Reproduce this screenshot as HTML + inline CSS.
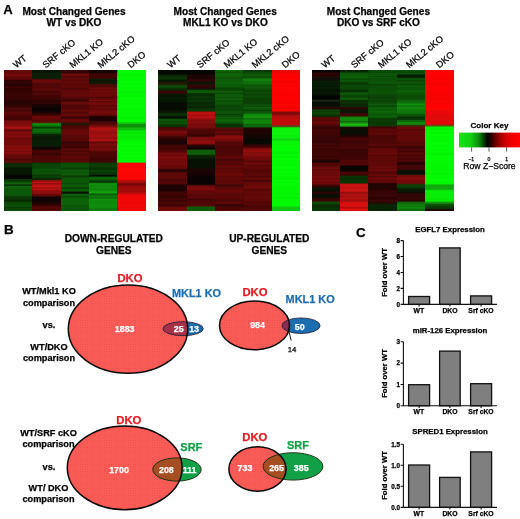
<!DOCTYPE html>
<html><head><meta charset="utf-8"><title>Figure</title>
<style>
html,body{margin:0;padding:0;background:#fff;}
svg{display:block;}
text{font-family:"Liberation Sans",sans-serif;fill:#000;stroke:#000;stroke-width:0.25px;}
.ns text,text.ns{stroke:none;}
.b{font-weight:bold;}
</style></head><body>
<svg width="520" height="519" viewBox="0 0 520 519">
<defs>
<linearGradient id="h1c0" x1="0" y1="70" x2="0" y2="211.4" gradientUnits="userSpaceOnUse"><stop offset="0.0057" stop-color="#680808"/><stop offset="0.0170" stop-color="#680808"/><stop offset="0.0283" stop-color="#750a0a"/><stop offset="0.0424" stop-color="#750a0a"/><stop offset="0.0537" stop-color="#5f0808"/><stop offset="0.0629" stop-color="#5f0808"/><stop offset="0.0743" stop-color="#310303"/><stop offset="0.1040" stop-color="#310303"/><stop offset="0.1153" stop-color="#3f0404"/><stop offset="0.1344" stop-color="#3f0404"/><stop offset="0.1457" stop-color="#360303"/><stop offset="0.1549" stop-color="#360303"/><stop offset="0.1662" stop-color="#3d0404"/><stop offset="0.2008" stop-color="#3d0404"/><stop offset="0.2122" stop-color="#2d0303"/><stop offset="0.2419" stop-color="#2d0303"/><stop offset="0.2532" stop-color="#3b0404"/><stop offset="0.2631" stop-color="#3b0404"/><stop offset="0.2744" stop-color="#5f0808"/><stop offset="0.3126" stop-color="#5f0808"/><stop offset="0.3239" stop-color="#4c0505"/><stop offset="0.3494" stop-color="#4c0505"/><stop offset="0.3607" stop-color="#880c0c"/><stop offset="0.3798" stop-color="#880c0c"/><stop offset="0.3911" stop-color="#b51212"/><stop offset="0.4158" stop-color="#b51212"/><stop offset="0.4272" stop-color="#880c0c"/><stop offset="0.4470" stop-color="#880c0c"/><stop offset="0.4583" stop-color="#7f0b0b"/><stop offset="0.4965" stop-color="#7f0b0b"/><stop offset="0.5078" stop-color="#7a0b0b"/><stop offset="0.5269" stop-color="#7a0b0b"/><stop offset="0.5382" stop-color="#880c0c"/><stop offset="0.6096" stop-color="#880c0c"/><stop offset="0.6209" stop-color="#5f0808"/><stop offset="0.6521" stop-color="#5f0808"/><stop offset="0.6634" stop-color="#0a3005"/><stop offset="0.6853" stop-color="#0a3005"/><stop offset="0.6966" stop-color="#081803"/><stop offset="0.7369" stop-color="#081803"/><stop offset="0.7482" stop-color="#030503"/><stop offset="0.7673" stop-color="#030503"/><stop offset="0.7763" stop-color="#0c4d07"/><stop offset="0.7796" stop-color="#0c4d07"/><stop offset="0.7885" stop-color="#0d6409"/><stop offset="0.8034" stop-color="#0d6409"/><stop offset="0.8124" stop-color="#0a3a05"/><stop offset="0.8157" stop-color="#0a3a05"/><stop offset="0.8246" stop-color="#0d6609"/><stop offset="0.8748" stop-color="#0d6609"/><stop offset="0.8854" stop-color="#0d6409"/><stop offset="0.8904" stop-color="#0d6409"/><stop offset="0.9010" stop-color="#0a3a05"/><stop offset="0.9257" stop-color="#0a3a05"/><stop offset="0.9371" stop-color="#0c4d07"/><stop offset="0.9463" stop-color="#0c4d07"/><stop offset="0.9576" stop-color="#0c5608"/><stop offset="0.9632" stop-color="#0c5608"/><stop offset="0.9719" stop-color="#0a3a05"/><stop offset="0.9750" stop-color="#0a3a05"/><stop offset="0.9837" stop-color="#0c5608"/><stop offset="0.9943" stop-color="#0c5608"/></linearGradient><linearGradient id="h1c1" x1="0" y1="70" x2="0" y2="211.4" gradientUnits="userSpaceOnUse"><stop offset="0.0057" stop-color="#0a1505"/><stop offset="0.0120" stop-color="#0a1505"/><stop offset="0.0233" stop-color="#0d2208"/><stop offset="0.0580" stop-color="#0d2208"/><stop offset="0.0693" stop-color="#750a0a"/><stop offset="0.0934" stop-color="#750a0a"/><stop offset="0.1047" stop-color="#560707"/><stop offset="0.1195" stop-color="#560707"/><stop offset="0.1308" stop-color="#5a0707"/><stop offset="0.1711" stop-color="#5a0707"/><stop offset="0.1825" stop-color="#440404"/><stop offset="0.2008" stop-color="#440404"/><stop offset="0.2122" stop-color="#310303"/><stop offset="0.2369" stop-color="#310303"/><stop offset="0.2482" stop-color="#160303"/><stop offset="0.2631" stop-color="#160303"/><stop offset="0.2744" stop-color="#0d0202"/><stop offset="0.2949" stop-color="#0d0202"/><stop offset="0.3062" stop-color="#360303"/><stop offset="0.3190" stop-color="#360303"/><stop offset="0.3296" stop-color="#750a0a"/><stop offset="0.3345" stop-color="#750a0a"/><stop offset="0.3451" stop-color="#680808"/><stop offset="0.3692" stop-color="#680808"/><stop offset="0.3805" stop-color="#118a0d"/><stop offset="0.3953" stop-color="#118a0d"/><stop offset="0.4050" stop-color="#0a4005"/><stop offset="0.4090" stop-color="#0a4005"/><stop offset="0.4187" stop-color="#0f7b0c"/><stop offset="0.4307" stop-color="#0f7b0c"/><stop offset="0.4418" stop-color="#0d6609"/><stop offset="0.4472" stop-color="#0d6609"/><stop offset="0.4559" stop-color="#0a3005"/><stop offset="0.4592" stop-color="#0a3005"/><stop offset="0.4682" stop-color="#0a1a05"/><stop offset="0.4965" stop-color="#0a1a05"/><stop offset="0.5078" stop-color="#0a2005"/><stop offset="0.5375" stop-color="#0a2005"/><stop offset="0.5488" stop-color="#160804"/><stop offset="0.5580" stop-color="#160804"/><stop offset="0.5693" stop-color="#4f0505"/><stop offset="0.6499" stop-color="#4f0505"/><stop offset="0.6612" stop-color="#0b4907"/><stop offset="0.6909" stop-color="#0b4907"/><stop offset="0.7023" stop-color="#0c5408"/><stop offset="0.7313" stop-color="#0c5408"/><stop offset="0.7426" stop-color="#0a4206"/><stop offset="0.7567" stop-color="#0a4206"/><stop offset="0.7676" stop-color="#0a3005"/><stop offset="0.7727" stop-color="#0a3005"/><stop offset="0.7836" stop-color="#c01212"/><stop offset="0.8430" stop-color="#c01212"/><stop offset="0.8543" stop-color="#a30f0f"/><stop offset="0.8692" stop-color="#a30f0f"/><stop offset="0.8805" stop-color="#5f0808"/><stop offset="0.8897" stop-color="#5f0808"/><stop offset="0.9010" stop-color="#120303"/><stop offset="0.9307" stop-color="#120303"/><stop offset="0.9415" stop-color="#290303"/><stop offset="0.9467" stop-color="#290303"/><stop offset="0.9576" stop-color="#560707"/><stop offset="0.9943" stop-color="#560707"/></linearGradient><linearGradient id="h1c2" x1="0" y1="70" x2="0" y2="211.4" gradientUnits="userSpaceOnUse"><stop offset="0.0057" stop-color="#440404"/><stop offset="0.0170" stop-color="#440404"/><stop offset="0.0283" stop-color="#6d0909"/><stop offset="0.0424" stop-color="#6d0909"/><stop offset="0.0537" stop-color="#5f0808"/><stop offset="0.0686" stop-color="#5f0808"/><stop offset="0.0799" stop-color="#660808"/><stop offset="0.1089" stop-color="#660808"/><stop offset="0.1202" stop-color="#5a0707"/><stop offset="0.1344" stop-color="#5a0707"/><stop offset="0.1457" stop-color="#6d0909"/><stop offset="0.2008" stop-color="#6d0909"/><stop offset="0.2119" stop-color="#3f0404"/><stop offset="0.2174" stop-color="#3f0404"/><stop offset="0.2277" stop-color="#6d0909"/><stop offset="0.2327" stop-color="#6d0909"/><stop offset="0.2433" stop-color="#5f0808"/><stop offset="0.2730" stop-color="#5f0808"/><stop offset="0.2843" stop-color="#710909"/><stop offset="0.3239" stop-color="#710909"/><stop offset="0.3352" stop-color="#480505"/><stop offset="0.3409" stop-color="#480505"/><stop offset="0.3522" stop-color="#710909"/><stop offset="0.3649" stop-color="#710909"/><stop offset="0.3762" stop-color="#241604"/><stop offset="0.3847" stop-color="#241604"/><stop offset="0.3960" stop-color="#5a0707"/><stop offset="0.4158" stop-color="#5a0707"/><stop offset="0.4272" stop-color="#680808"/><stop offset="0.4569" stop-color="#680808"/><stop offset="0.4682" stop-color="#5a0707"/><stop offset="0.4965" stop-color="#5a0707"/><stop offset="0.5078" stop-color="#4c0505"/><stop offset="0.5474" stop-color="#4c0505"/><stop offset="0.5587" stop-color="#5a0707"/><stop offset="0.5990" stop-color="#5a0707"/><stop offset="0.6103" stop-color="#5f0808"/><stop offset="0.6499" stop-color="#5f0808"/><stop offset="0.6612" stop-color="#0c5b08"/><stop offset="0.7419" stop-color="#0c5b08"/><stop offset="0.7506" stop-color="#0a4005"/><stop offset="0.7537" stop-color="#0a4005"/><stop offset="0.7624" stop-color="#0d6409"/><stop offset="0.8543" stop-color="#0d6409"/><stop offset="0.8649" stop-color="#051003"/><stop offset="0.8699" stop-color="#051003"/><stop offset="0.8805" stop-color="#0c5b08"/><stop offset="0.8996" stop-color="#0c5b08"/><stop offset="0.9109" stop-color="#0e6a0a"/><stop offset="0.9463" stop-color="#0e6a0a"/><stop offset="0.9576" stop-color="#0c5b08"/><stop offset="0.9943" stop-color="#0c5b08"/></linearGradient><linearGradient id="h1c3" x1="0" y1="70" x2="0" y2="211.4" gradientUnits="userSpaceOnUse"><stop offset="0.0057" stop-color="#1b0303"/><stop offset="0.0170" stop-color="#1b0303"/><stop offset="0.0283" stop-color="#440404"/><stop offset="0.0530" stop-color="#440404"/><stop offset="0.0644" stop-color="#101a05"/><stop offset="0.0934" stop-color="#101a05"/><stop offset="0.1047" stop-color="#5a0707"/><stop offset="0.1195" stop-color="#5a0707"/><stop offset="0.1308" stop-color="#710909"/><stop offset="0.2008" stop-color="#710909"/><stop offset="0.2122" stop-color="#7a0b0b"/><stop offset="0.2320" stop-color="#7a0b0b"/><stop offset="0.2433" stop-color="#6d0909"/><stop offset="0.2730" stop-color="#6d0909"/><stop offset="0.2843" stop-color="#750a0a"/><stop offset="0.3190" stop-color="#750a0a"/><stop offset="0.3303" stop-color="#1f0303"/><stop offset="0.3593" stop-color="#1f0303"/><stop offset="0.3706" stop-color="#6d0909"/><stop offset="0.3953" stop-color="#6d0909"/><stop offset="0.4066" stop-color="#b21111"/><stop offset="0.4470" stop-color="#b21111"/><stop offset="0.4583" stop-color="#b91212"/><stop offset="0.4965" stop-color="#b91212"/><stop offset="0.5078" stop-color="#8c0d0d"/><stop offset="0.5269" stop-color="#8c0d0d"/><stop offset="0.5382" stop-color="#750a0a"/><stop offset="0.5728" stop-color="#750a0a"/><stop offset="0.5842" stop-color="#520606"/><stop offset="0.6096" stop-color="#520606"/><stop offset="0.6209" stop-color="#440404"/><stop offset="0.6499" stop-color="#440404"/><stop offset="0.6612" stop-color="#0a4206"/><stop offset="0.7263" stop-color="#0a4206"/><stop offset="0.7355" stop-color="#083005"/><stop offset="0.7390" stop-color="#083005"/><stop offset="0.7459" stop-color="#030a02"/><stop offset="0.7492" stop-color="#030a02"/><stop offset="0.7581" stop-color="#0d6609"/><stop offset="0.7772" stop-color="#0d6609"/><stop offset="0.7883" stop-color="#0a3a05"/><stop offset="0.7937" stop-color="#0a3a05"/><stop offset="0.8048" stop-color="#119a0d"/><stop offset="0.8543" stop-color="#119a0d"/><stop offset="0.8649" stop-color="#16b812"/><stop offset="0.8699" stop-color="#16b812"/><stop offset="0.8805" stop-color="#0f800c"/><stop offset="0.9052" stop-color="#0f800c"/><stop offset="0.9165" stop-color="#11940d"/><stop offset="0.9279" stop-color="#11940d"/><stop offset="0.9392" stop-color="#12a10e"/><stop offset="0.9774" stop-color="#12a10e"/><stop offset="0.9887" stop-color="#11940d"/><stop offset="0.9943" stop-color="#11940d"/></linearGradient><linearGradient id="h1c4" x1="0" y1="70" x2="0" y2="211.4" gradientUnits="userSpaceOnUse"><stop offset="0.0057" stop-color="#04fb04"/><stop offset="0.3649" stop-color="#04fb04"/><stop offset="0.3739" stop-color="#0fc80f"/><stop offset="0.3772" stop-color="#0fc80f"/><stop offset="0.3861" stop-color="#0e940a"/><stop offset="0.4003" stop-color="#0e940a"/><stop offset="0.4116" stop-color="#0fc00f"/><stop offset="0.4208" stop-color="#0fc00f"/><stop offset="0.4321" stop-color="#06f206"/><stop offset="0.4965" stop-color="#06f206"/><stop offset="0.5078" stop-color="#04fc04"/><stop offset="0.6499" stop-color="#04fc04"/><stop offset="0.6612" stop-color="#ff0505"/><stop offset="0.7723" stop-color="#ff0505"/><stop offset="0.7836" stop-color="#b20b0b"/><stop offset="0.7935" stop-color="#b20b0b"/><stop offset="0.8048" stop-color="#750808"/><stop offset="0.8133" stop-color="#750808"/><stop offset="0.8246" stop-color="#a30b0b"/><stop offset="0.8593" stop-color="#a30b0b"/><stop offset="0.8701" stop-color="#c00b0b"/><stop offset="0.8753" stop-color="#c00b0b"/><stop offset="0.8861" stop-color="#f50808"/><stop offset="0.9943" stop-color="#f50808"/></linearGradient><linearGradient id="h2c0" x1="0" y1="70" x2="0" y2="211.4" gradientUnits="userSpaceOnUse"><stop offset="0.0057" stop-color="#050a03"/><stop offset="0.0276" stop-color="#050a03"/><stop offset="0.0382" stop-color="#0a2a05"/><stop offset="0.0431" stop-color="#0a2a05"/><stop offset="0.0537" stop-color="#0c3a07"/><stop offset="0.0629" stop-color="#0c3a07"/><stop offset="0.0738" stop-color="#0a2005"/><stop offset="0.0790" stop-color="#0a2005"/><stop offset="0.0898" stop-color="#271805"/><stop offset="0.0990" stop-color="#271805"/><stop offset="0.1103" stop-color="#0c4a07"/><stop offset="0.1245" stop-color="#0c4a07"/><stop offset="0.1353" stop-color="#0a3005"/><stop offset="0.1405" stop-color="#0a3005"/><stop offset="0.1513" stop-color="#450505"/><stop offset="0.1605" stop-color="#450505"/><stop offset="0.1719" stop-color="#081d04"/><stop offset="0.2207" stop-color="#081d04"/><stop offset="0.2320" stop-color="#040c03"/><stop offset="0.2730" stop-color="#040c03"/><stop offset="0.2843" stop-color="#0a1505"/><stop offset="0.2984" stop-color="#0a1505"/><stop offset="0.3098" stop-color="#0a3505"/><stop offset="0.3190" stop-color="#0a3505"/><stop offset="0.3303" stop-color="#061003"/><stop offset="0.3388" stop-color="#061003"/><stop offset="0.3501" stop-color="#0d5508"/><stop offset="0.3692" stop-color="#0d5508"/><stop offset="0.3805" stop-color="#0c4a07"/><stop offset="0.3975" stop-color="#0c4a07"/><stop offset="0.4088" stop-color="#540606"/><stop offset="0.4158" stop-color="#540606"/><stop offset="0.4272" stop-color="#770a0a"/><stop offset="0.4569" stop-color="#770a0a"/><stop offset="0.4682" stop-color="#4a0505"/><stop offset="0.4774" stop-color="#4a0505"/><stop offset="0.4887" stop-color="#270303"/><stop offset="0.4965" stop-color="#270303"/><stop offset="0.5078" stop-color="#1e0303"/><stop offset="0.5219" stop-color="#1e0303"/><stop offset="0.5332" stop-color="#4a0505"/><stop offset="0.5629" stop-color="#4a0505"/><stop offset="0.5743" stop-color="#770a0a"/><stop offset="0.6096" stop-color="#770a0a"/><stop offset="0.6209" stop-color="#800b0b"/><stop offset="0.6909" stop-color="#800b0b"/><stop offset="0.7023" stop-color="#3c0404"/><stop offset="0.7157" stop-color="#3c0404"/><stop offset="0.7270" stop-color="#630707"/><stop offset="0.7581" stop-color="#630707"/><stop offset="0.7694" stop-color="#590707"/><stop offset="0.8034" stop-color="#590707"/><stop offset="0.8147" stop-color="#1e0303"/><stop offset="0.8543" stop-color="#1e0303"/><stop offset="0.8656" stop-color="#450505"/><stop offset="0.9052" stop-color="#450505"/><stop offset="0.9165" stop-color="#4a0505"/><stop offset="0.9618" stop-color="#4a0505"/><stop offset="0.9731" stop-color="#7c0a0a"/><stop offset="0.9943" stop-color="#7c0a0a"/></linearGradient><linearGradient id="h2c1" x1="0" y1="70" x2="0" y2="211.4" gradientUnits="userSpaceOnUse"><stop offset="0.0057" stop-color="#070705"/><stop offset="0.0276" stop-color="#070705"/><stop offset="0.0389" stop-color="#220505"/><stop offset="0.0580" stop-color="#220505"/><stop offset="0.0693" stop-color="#360505"/><stop offset="0.0785" stop-color="#360505"/><stop offset="0.0898" stop-color="#0a1505"/><stop offset="0.0990" stop-color="#0a1505"/><stop offset="0.1103" stop-color="#400505"/><stop offset="0.1195" stop-color="#400505"/><stop offset="0.1301" stop-color="#180f05"/><stop offset="0.1351" stop-color="#180f05"/><stop offset="0.1436" stop-color="#0c5508"/><stop offset="0.1471" stop-color="#0c5508"/><stop offset="0.1542" stop-color="#0e6a09"/><stop offset="0.1577" stop-color="#0e6a09"/><stop offset="0.1669" stop-color="#083005"/><stop offset="0.1803" stop-color="#083005"/><stop offset="0.1917" stop-color="#093806"/><stop offset="0.2419" stop-color="#093806"/><stop offset="0.2532" stop-color="#082805"/><stop offset="0.2631" stop-color="#082805"/><stop offset="0.2744" stop-color="#093806"/><stop offset="0.2878" stop-color="#093806"/><stop offset="0.2992" stop-color="#c11111"/><stop offset="0.3338" stop-color="#c11111"/><stop offset="0.3451" stop-color="#950e0e"/><stop offset="0.3748" stop-color="#950e0e"/><stop offset="0.3861" stop-color="#860c0c"/><stop offset="0.4158" stop-color="#860c0c"/><stop offset="0.4272" stop-color="#540606"/><stop offset="0.4470" stop-color="#540606"/><stop offset="0.4583" stop-color="#3c0505"/><stop offset="0.4668" stop-color="#3c0505"/><stop offset="0.4781" stop-color="#950e0e"/><stop offset="0.4965" stop-color="#950e0e"/><stop offset="0.5078" stop-color="#aa0f0f"/><stop offset="0.5219" stop-color="#aa0f0f"/><stop offset="0.5332" stop-color="#2d0404"/><stop offset="0.5389" stop-color="#2d0404"/><stop offset="0.5502" stop-color="#140303"/><stop offset="0.5580" stop-color="#140303"/><stop offset="0.5693" stop-color="#0e620a"/><stop offset="0.5934" stop-color="#0e620a"/><stop offset="0.6047" stop-color="#0a2a05"/><stop offset="0.6188" stop-color="#0a2a05"/><stop offset="0.6301" stop-color="#061203"/><stop offset="0.6909" stop-color="#061203"/><stop offset="0.7023" stop-color="#1e0303"/><stop offset="0.7419" stop-color="#1e0303"/><stop offset="0.7532" stop-color="#090303"/><stop offset="0.8076" stop-color="#090303"/><stop offset="0.8190" stop-color="#7c0a0a"/><stop offset="0.8494" stop-color="#7c0a0a"/><stop offset="0.8607" stop-color="#6d0909"/><stop offset="0.8748" stop-color="#6d0909"/><stop offset="0.8861" stop-color="#630707"/><stop offset="0.9052" stop-color="#630707"/><stop offset="0.9165" stop-color="#560606"/><stop offset="0.9597" stop-color="#560606"/><stop offset="0.9710" stop-color="#0e6a09"/><stop offset="0.9943" stop-color="#0e6a09"/></linearGradient><linearGradient id="h2c2" x1="0" y1="70" x2="0" y2="211.4" gradientUnits="userSpaceOnUse"><stop offset="0.0057" stop-color="#0f6a0a"/><stop offset="0.0424" stop-color="#0f6a0a"/><stop offset="0.0537" stop-color="#0d5a08"/><stop offset="0.0686" stop-color="#0d5a08"/><stop offset="0.0799" stop-color="#0e650a"/><stop offset="0.1089" stop-color="#0e650a"/><stop offset="0.1202" stop-color="#0d5a08"/><stop offset="0.2320" stop-color="#0d5a08"/><stop offset="0.2433" stop-color="#0c5007"/><stop offset="0.2829" stop-color="#0c5007"/><stop offset="0.2942" stop-color="#0d5a08"/><stop offset="0.3338" stop-color="#0d5a08"/><stop offset="0.3451" stop-color="#0e650a"/><stop offset="0.3748" stop-color="#0e650a"/><stop offset="0.3861" stop-color="#0a3a05"/><stop offset="0.4017" stop-color="#0a3a05"/><stop offset="0.4130" stop-color="#6d0909"/><stop offset="0.4569" stop-color="#6d0909"/><stop offset="0.4682" stop-color="#950e0e"/><stop offset="0.4823" stop-color="#950e0e"/><stop offset="0.4927" stop-color="#710909"/><stop offset="0.4974" stop-color="#710909"/><stop offset="0.5078" stop-color="#630707"/><stop offset="0.5269" stop-color="#630707"/><stop offset="0.5382" stop-color="#4f0606"/><stop offset="0.5990" stop-color="#4f0606"/><stop offset="0.6103" stop-color="#630707"/><stop offset="0.7016" stop-color="#630707"/><stop offset="0.7129" stop-color="#6a0808"/><stop offset="0.8034" stop-color="#6a0808"/><stop offset="0.8147" stop-color="#590707"/><stop offset="0.8338" stop-color="#590707"/><stop offset="0.8451" stop-color="#6a0808"/><stop offset="0.9052" stop-color="#6a0808"/><stop offset="0.9165" stop-color="#630707"/><stop offset="0.9463" stop-color="#630707"/><stop offset="0.9576" stop-color="#4a0505"/><stop offset="0.9703" stop-color="#4a0505"/><stop offset="0.9816" stop-color="#540606"/><stop offset="0.9943" stop-color="#540606"/></linearGradient><linearGradient id="h2c3" x1="0" y1="70" x2="0" y2="211.4" gradientUnits="userSpaceOnUse"><stop offset="0.0057" stop-color="#0a3a05"/><stop offset="0.0120" stop-color="#0a3a05"/><stop offset="0.0233" stop-color="#0d5a08"/><stop offset="0.0530" stop-color="#0d5a08"/><stop offset="0.0644" stop-color="#10800c"/><stop offset="0.0934" stop-color="#10800c"/><stop offset="0.1047" stop-color="#0e650a"/><stop offset="0.1195" stop-color="#0e650a"/><stop offset="0.1308" stop-color="#0d5a08"/><stop offset="0.1549" stop-color="#0d5a08"/><stop offset="0.1662" stop-color="#0c4a07"/><stop offset="0.2369" stop-color="#0c4a07"/><stop offset="0.2482" stop-color="#0e650a"/><stop offset="0.2730" stop-color="#0e650a"/><stop offset="0.2843" stop-color="#0d5a08"/><stop offset="0.3034" stop-color="#0d5a08"/><stop offset="0.3147" stop-color="#12900e"/><stop offset="0.3748" stop-color="#12900e"/><stop offset="0.3861" stop-color="#0e6a09"/><stop offset="0.4003" stop-color="#0e6a09"/><stop offset="0.4116" stop-color="#220303"/><stop offset="0.4470" stop-color="#220303"/><stop offset="0.4583" stop-color="#180903"/><stop offset="0.4752" stop-color="#180903"/><stop offset="0.4866" stop-color="#090903"/><stop offset="0.5219" stop-color="#090903"/><stop offset="0.5332" stop-color="#3c0505"/><stop offset="0.5424" stop-color="#3c0505"/><stop offset="0.5537" stop-color="#860c0c"/><stop offset="0.5601" stop-color="#860c0c"/><stop offset="0.5714" stop-color="#950e0e"/><stop offset="0.6096" stop-color="#950e0e"/><stop offset="0.6209" stop-color="#7c0a0a"/><stop offset="0.6591" stop-color="#7c0a0a"/><stop offset="0.6704" stop-color="#630707"/><stop offset="0.7313" stop-color="#630707"/><stop offset="0.7426" stop-color="#6d0909"/><stop offset="0.8338" stop-color="#6d0909"/><stop offset="0.8451" stop-color="#680808"/><stop offset="0.9137" stop-color="#680808"/><stop offset="0.9250" stop-color="#5e0707"/><stop offset="0.9943" stop-color="#5e0707"/></linearGradient><linearGradient id="h2c4" x1="0" y1="70" x2="0" y2="211.4" gradientUnits="userSpaceOnUse"><stop offset="0.0057" stop-color="#e80808"/><stop offset="0.0156" stop-color="#e80808"/><stop offset="0.0269" stop-color="#ff0202"/><stop offset="0.2878" stop-color="#ff0202"/><stop offset="0.2992" stop-color="#800909"/><stop offset="0.3133" stop-color="#800909"/><stop offset="0.3246" stop-color="#b90c0c"/><stop offset="0.3388" stop-color="#b90c0c"/><stop offset="0.3501" stop-color="#c50c0c"/><stop offset="0.3861" stop-color="#c50c0c"/><stop offset="0.3956" stop-color="#594a0f"/><stop offset="0.3993" stop-color="#594a0f"/><stop offset="0.4088" stop-color="#0cf40c"/><stop offset="0.4795" stop-color="#0cf40c"/><stop offset="0.4889" stop-color="#10d010"/><stop offset="0.4927" stop-color="#10d010"/><stop offset="0.5021" stop-color="#08f508"/><stop offset="0.5248" stop-color="#08f508"/><stop offset="0.5361" stop-color="#04fc04"/><stop offset="0.9618" stop-color="#04fc04"/><stop offset="0.9731" stop-color="#10c810"/><stop offset="0.9943" stop-color="#10c810"/></linearGradient><linearGradient id="h3c0" x1="0" y1="70" x2="0" y2="211.4" gradientUnits="userSpaceOnUse"><stop offset="0.0057" stop-color="#0a0505"/><stop offset="0.0120" stop-color="#0a0505"/><stop offset="0.0233" stop-color="#2f0505"/><stop offset="0.0424" stop-color="#2f0505"/><stop offset="0.0537" stop-color="#14100a"/><stop offset="0.0686" stop-color="#14100a"/><stop offset="0.0799" stop-color="#082005"/><stop offset="0.1287" stop-color="#082005"/><stop offset="0.1400" stop-color="#061803"/><stop offset="0.1711" stop-color="#061803"/><stop offset="0.1825" stop-color="#030503"/><stop offset="0.2065" stop-color="#030503"/><stop offset="0.2155" stop-color="#1a2a15"/><stop offset="0.2188" stop-color="#1a2a15"/><stop offset="0.2277" stop-color="#051003"/><stop offset="0.2525" stop-color="#051003"/><stop offset="0.2638" stop-color="#290a05"/><stop offset="0.2730" stop-color="#290a05"/><stop offset="0.2843" stop-color="#0b4507"/><stop offset="0.3267" stop-color="#0b4507"/><stop offset="0.3380" stop-color="#670808"/><stop offset="0.3847" stop-color="#670808"/><stop offset="0.3960" stop-color="#3e0505"/><stop offset="0.4158" stop-color="#3e0505"/><stop offset="0.4272" stop-color="#480505"/><stop offset="0.4569" stop-color="#480505"/><stop offset="0.4682" stop-color="#3e0505"/><stop offset="0.4965" stop-color="#3e0505"/><stop offset="0.5078" stop-color="#430505"/><stop offset="0.5580" stop-color="#430505"/><stop offset="0.5693" stop-color="#480505"/><stop offset="0.6294" stop-color="#480505"/><stop offset="0.6407" stop-color="#240303"/><stop offset="0.6499" stop-color="#240303"/><stop offset="0.6612" stop-color="#570606"/><stop offset="0.6803" stop-color="#570606"/><stop offset="0.6917" stop-color="#710a0a"/><stop offset="0.7313" stop-color="#710a0a"/><stop offset="0.7426" stop-color="#760a0a"/><stop offset="0.8034" stop-color="#760a0a"/><stop offset="0.8147" stop-color="#480505"/><stop offset="0.8232" stop-color="#480505"/><stop offset="0.8345" stop-color="#081503"/><stop offset="0.8543" stop-color="#081503"/><stop offset="0.8649" stop-color="#2f0505"/><stop offset="0.8699" stop-color="#2f0505"/><stop offset="0.8805" stop-color="#061003"/><stop offset="0.8996" stop-color="#061003"/><stop offset="0.9109" stop-color="#3e0505"/><stop offset="0.9257" stop-color="#3e0505"/><stop offset="0.9371" stop-color="#0c4f07"/><stop offset="0.9463" stop-color="#0c4f07"/><stop offset="0.9571" stop-color="#0a3005"/><stop offset="0.9623" stop-color="#0a3005"/><stop offset="0.9731" stop-color="#0a3a05"/><stop offset="0.9943" stop-color="#0a3a05"/></linearGradient><linearGradient id="h3c1" x1="0" y1="70" x2="0" y2="211.4" gradientUnits="userSpaceOnUse"><stop offset="0.0057" stop-color="#0a3005"/><stop offset="0.0120" stop-color="#0a3005"/><stop offset="0.0233" stop-color="#0d5e09"/><stop offset="0.0792" stop-color="#0d5e09"/><stop offset="0.0896" stop-color="#0a3a05"/><stop offset="0.0943" stop-color="#0a3a05"/><stop offset="0.1047" stop-color="#0b4a07"/><stop offset="0.1344" stop-color="#0b4a07"/><stop offset="0.1452" stop-color="#0a3005"/><stop offset="0.1504" stop-color="#0a3005"/><stop offset="0.1612" stop-color="#0d5e09"/><stop offset="0.2065" stop-color="#0d5e09"/><stop offset="0.2178" stop-color="#0a3005"/><stop offset="0.2320" stop-color="#0a3005"/><stop offset="0.2433" stop-color="#0a2a05"/><stop offset="0.2574" stop-color="#0a2a05"/><stop offset="0.2683" stop-color="#380505"/><stop offset="0.2735" stop-color="#380505"/><stop offset="0.2843" stop-color="#0a1505"/><stop offset="0.2984" stop-color="#0a1505"/><stop offset="0.3098" stop-color="#480505"/><stop offset="0.3232" stop-color="#480505"/><stop offset="0.3345" stop-color="#13950f"/><stop offset="0.3692" stop-color="#13950f"/><stop offset="0.3805" stop-color="#1ec116"/><stop offset="0.3953" stop-color="#1ec116"/><stop offset="0.4066" stop-color="#190a05"/><stop offset="0.4158" stop-color="#190a05"/><stop offset="0.4272" stop-color="#081003"/><stop offset="0.4470" stop-color="#081003"/><stop offset="0.4583" stop-color="#1f0a05"/><stop offset="0.4668" stop-color="#1f0a05"/><stop offset="0.4781" stop-color="#4e0505"/><stop offset="0.4965" stop-color="#4e0505"/><stop offset="0.5078" stop-color="#480505"/><stop offset="0.5672" stop-color="#480505"/><stop offset="0.5785" stop-color="#3e0404"/><stop offset="0.6294" stop-color="#3e0404"/><stop offset="0.6407" stop-color="#520606"/><stop offset="0.6704" stop-color="#520606"/><stop offset="0.6818" stop-color="#0a0503"/><stop offset="0.7107" stop-color="#0a0503"/><stop offset="0.7221" stop-color="#480505"/><stop offset="0.7419" stop-color="#480505"/><stop offset="0.7532" stop-color="#0a3505"/><stop offset="0.7970" stop-color="#0a3505"/><stop offset="0.8083" stop-color="#e01414"/><stop offset="0.8642" stop-color="#e01414"/><stop offset="0.8755" stop-color="#b51010"/><stop offset="0.9257" stop-color="#b51010"/><stop offset="0.9371" stop-color="#f81010"/><stop offset="0.9943" stop-color="#f81010"/></linearGradient><linearGradient id="h3c2" x1="0" y1="70" x2="0" y2="211.4" gradientUnits="userSpaceOnUse"><stop offset="0.0057" stop-color="#0d5e09"/><stop offset="0.0276" stop-color="#0d5e09"/><stop offset="0.0389" stop-color="#0e6809"/><stop offset="0.0481" stop-color="#0e6809"/><stop offset="0.0594" stop-color="#0c5407"/><stop offset="0.1711" stop-color="#0c5407"/><stop offset="0.1825" stop-color="#0b4507"/><stop offset="0.2115" stop-color="#0b4507"/><stop offset="0.2228" stop-color="#0d5e09"/><stop offset="0.2730" stop-color="#0d5e09"/><stop offset="0.2843" stop-color="#0e6809"/><stop offset="0.3055" stop-color="#0e6809"/><stop offset="0.3168" stop-color="#0d5e09"/><stop offset="0.3338" stop-color="#0d5e09"/><stop offset="0.3451" stop-color="#0a4005"/><stop offset="0.3925" stop-color="#0a4005"/><stop offset="0.4038" stop-color="#5f0707"/><stop offset="0.4569" stop-color="#5f0707"/><stop offset="0.4682" stop-color="#570606"/><stop offset="0.4965" stop-color="#570606"/><stop offset="0.5078" stop-color="#620808"/><stop offset="0.5375" stop-color="#620808"/><stop offset="0.5488" stop-color="#670808"/><stop offset="0.6294" stop-color="#670808"/><stop offset="0.6407" stop-color="#620808"/><stop offset="0.6803" stop-color="#620808"/><stop offset="0.6917" stop-color="#6f0909"/><stop offset="0.7313" stop-color="#6f0909"/><stop offset="0.7426" stop-color="#6d0909"/><stop offset="0.7935" stop-color="#6d0909"/><stop offset="0.8048" stop-color="#240303"/><stop offset="0.8430" stop-color="#240303"/><stop offset="0.8543" stop-color="#3e0505"/><stop offset="0.9314" stop-color="#3e0505"/><stop offset="0.9420" stop-color="#191405"/><stop offset="0.9470" stop-color="#191405"/><stop offset="0.9576" stop-color="#0a2a05"/><stop offset="0.9943" stop-color="#0a2a05"/></linearGradient><linearGradient id="h3c3" x1="0" y1="70" x2="0" y2="211.4" gradientUnits="userSpaceOnUse"><stop offset="0.0057" stop-color="#0c5407"/><stop offset="0.0276" stop-color="#0c5407"/><stop offset="0.0389" stop-color="#062003"/><stop offset="0.0481" stop-color="#062003"/><stop offset="0.0594" stop-color="#0c5407"/><stop offset="0.0990" stop-color="#0c5407"/><stop offset="0.1103" stop-color="#0d5e09"/><stop offset="0.1711" stop-color="#0d5e09"/><stop offset="0.1825" stop-color="#0c5407"/><stop offset="0.2115" stop-color="#0c5407"/><stop offset="0.2228" stop-color="#13950f"/><stop offset="0.2419" stop-color="#13950f"/><stop offset="0.2532" stop-color="#118b0d"/><stop offset="0.3034" stop-color="#118b0d"/><stop offset="0.3147" stop-color="#0d6308"/><stop offset="0.3239" stop-color="#0d6308"/><stop offset="0.3352" stop-color="#0a3a05"/><stop offset="0.3494" stop-color="#0a3a05"/><stop offset="0.3607" stop-color="#13950f"/><stop offset="0.3833" stop-color="#13950f"/><stop offset="0.3925" stop-color="#382f05"/><stop offset="0.3960" stop-color="#382f05"/><stop offset="0.4052" stop-color="#6f0909"/><stop offset="0.4470" stop-color="#6f0909"/><stop offset="0.4583" stop-color="#670808"/><stop offset="0.4965" stop-color="#670808"/><stop offset="0.5078" stop-color="#5d0707"/><stop offset="0.5375" stop-color="#5d0707"/><stop offset="0.5488" stop-color="#520606"/><stop offset="0.6450" stop-color="#520606"/><stop offset="0.6563" stop-color="#240303"/><stop offset="0.6648" stop-color="#240303"/><stop offset="0.6761" stop-color="#4e0505"/><stop offset="0.7016" stop-color="#4e0505"/><stop offset="0.7129" stop-color="#0a1505"/><stop offset="0.7369" stop-color="#0a1505"/><stop offset="0.7482" stop-color="#860c0c"/><stop offset="0.8006" stop-color="#860c0c"/><stop offset="0.8119" stop-color="#0b4a07"/><stop offset="0.8338" stop-color="#0b4a07"/><stop offset="0.8451" stop-color="#0a1a05"/><stop offset="0.8642" stop-color="#0a1a05"/><stop offset="0.8755" stop-color="#330505"/><stop offset="0.9257" stop-color="#330505"/><stop offset="0.9368" stop-color="#0e7109"/><stop offset="0.9422" stop-color="#0e7109"/><stop offset="0.9533" stop-color="#11860d"/><stop offset="0.9774" stop-color="#11860d"/><stop offset="0.9887" stop-color="#0e7109"/><stop offset="0.9943" stop-color="#0e7109"/></linearGradient><linearGradient id="h3c4" x1="0" y1="70" x2="0" y2="211.4" gradientUnits="userSpaceOnUse"><stop offset="0.0057" stop-color="#ff0202"/><stop offset="0.2730" stop-color="#ff0202"/><stop offset="0.2843" stop-color="#f00808"/><stop offset="0.3034" stop-color="#f00808"/><stop offset="0.3147" stop-color="#e00a0a"/><stop offset="0.3833" stop-color="#e00a0a"/><stop offset="0.3920" stop-color="#5d4e10"/><stop offset="0.3951" stop-color="#5d4e10"/><stop offset="0.4038" stop-color="#04fc04"/><stop offset="0.8034" stop-color="#04fc04"/><stop offset="0.8147" stop-color="#0fab0f"/><stop offset="0.8430" stop-color="#0fab0f"/><stop offset="0.8543" stop-color="#08f008"/><stop offset="0.9257" stop-color="#08f008"/><stop offset="0.9366" stop-color="#0f950f"/><stop offset="0.9418" stop-color="#0f950f"/><stop offset="0.9526" stop-color="#094a05"/><stop offset="0.9618" stop-color="#094a05"/><stop offset="0.9727" stop-color="#0c3a07"/><stop offset="0.9778" stop-color="#0c3a07"/><stop offset="0.9887" stop-color="#1f0505"/><stop offset="0.9943" stop-color="#1f0505"/></linearGradient><linearGradient id="tx0" x1="0" y1="0" x2="0" y2="70.700" gradientUnits="userSpaceOnUse" spreadMethod="repeat"><stop offset="0.0030" stop-color="#000" stop-opacity="0.08"/><stop offset="0.0170" stop-color="#000" stop-opacity="0.08"/><stop offset="0.0230" stop-color="#000" stop-opacity="0.07"/><stop offset="0.0370" stop-color="#000" stop-opacity="0.07"/><stop offset="0.0430" stop-color="#000" stop-opacity="0.11"/><stop offset="0.0570" stop-color="#000" stop-opacity="0.11"/><stop offset="0.0630" stop-color="#000" stop-opacity="0.00"/><stop offset="0.0770" stop-color="#000" stop-opacity="0.00"/><stop offset="0.0830" stop-color="#000" stop-opacity="0.07"/><stop offset="0.0970" stop-color="#000" stop-opacity="0.07"/><stop offset="0.1030" stop-color="#000" stop-opacity="0.07"/><stop offset="0.1170" stop-color="#000" stop-opacity="0.07"/><stop offset="0.1230" stop-color="#000" stop-opacity="0.00"/><stop offset="0.1370" stop-color="#000" stop-opacity="0.00"/><stop offset="0.1430" stop-color="#000" stop-opacity="0.18"/><stop offset="0.1570" stop-color="#000" stop-opacity="0.18"/><stop offset="0.1630" stop-color="#000" stop-opacity="0.00"/><stop offset="0.1770" stop-color="#000" stop-opacity="0.00"/><stop offset="0.1830" stop-color="#000" stop-opacity="0.15"/><stop offset="0.1970" stop-color="#000" stop-opacity="0.15"/><stop offset="0.2030" stop-color="#000" stop-opacity="0.34"/><stop offset="0.2170" stop-color="#000" stop-opacity="0.34"/><stop offset="0.2230" stop-color="#000" stop-opacity="0.20"/><stop offset="0.2370" stop-color="#000" stop-opacity="0.20"/><stop offset="0.2430" stop-color="#000" stop-opacity="0.00"/><stop offset="0.2570" stop-color="#000" stop-opacity="0.00"/><stop offset="0.2630" stop-color="#000" stop-opacity="0.28"/><stop offset="0.2770" stop-color="#000" stop-opacity="0.28"/><stop offset="0.2830" stop-color="#000" stop-opacity="0.00"/><stop offset="0.2970" stop-color="#000" stop-opacity="0.00"/><stop offset="0.3030" stop-color="#000" stop-opacity="0.00"/><stop offset="0.3170" stop-color="#000" stop-opacity="0.00"/><stop offset="0.3230" stop-color="#000" stop-opacity="0.17"/><stop offset="0.3370" stop-color="#000" stop-opacity="0.17"/><stop offset="0.3430" stop-color="#000" stop-opacity="0.00"/><stop offset="0.3570" stop-color="#000" stop-opacity="0.00"/><stop offset="0.3630" stop-color="#000" stop-opacity="0.15"/><stop offset="0.3770" stop-color="#000" stop-opacity="0.15"/><stop offset="0.3830" stop-color="#000" stop-opacity="0.14"/><stop offset="0.3970" stop-color="#000" stop-opacity="0.14"/><stop offset="0.4030" stop-color="#000" stop-opacity="0.00"/><stop offset="0.4170" stop-color="#000" stop-opacity="0.00"/><stop offset="0.4230" stop-color="#000" stop-opacity="0.00"/><stop offset="0.4370" stop-color="#000" stop-opacity="0.00"/><stop offset="0.4430" stop-color="#000" stop-opacity="0.16"/><stop offset="0.4570" stop-color="#000" stop-opacity="0.16"/><stop offset="0.4630" stop-color="#000" stop-opacity="0.10"/><stop offset="0.4770" stop-color="#000" stop-opacity="0.10"/><stop offset="0.4830" stop-color="#000" stop-opacity="0.12"/><stop offset="0.4970" stop-color="#000" stop-opacity="0.12"/><stop offset="0.5030" stop-color="#000" stop-opacity="0.17"/><stop offset="0.5170" stop-color="#000" stop-opacity="0.17"/><stop offset="0.5230" stop-color="#000" stop-opacity="0.09"/><stop offset="0.5370" stop-color="#000" stop-opacity="0.09"/><stop offset="0.5430" stop-color="#000" stop-opacity="0.13"/><stop offset="0.5570" stop-color="#000" stop-opacity="0.13"/><stop offset="0.5630" stop-color="#000" stop-opacity="0.37"/><stop offset="0.5770" stop-color="#000" stop-opacity="0.37"/><stop offset="0.5830" stop-color="#000" stop-opacity="0.20"/><stop offset="0.5970" stop-color="#000" stop-opacity="0.20"/><stop offset="0.6030" stop-color="#000" stop-opacity="0.00"/><stop offset="0.6170" stop-color="#000" stop-opacity="0.00"/><stop offset="0.6230" stop-color="#000" stop-opacity="0.17"/><stop offset="0.6370" stop-color="#000" stop-opacity="0.17"/><stop offset="0.6430" stop-color="#000" stop-opacity="0.00"/><stop offset="0.6570" stop-color="#000" stop-opacity="0.00"/><stop offset="0.6630" stop-color="#000" stop-opacity="0.07"/><stop offset="0.6770" stop-color="#000" stop-opacity="0.07"/><stop offset="0.6830" stop-color="#000" stop-opacity="0.17"/><stop offset="0.6970" stop-color="#000" stop-opacity="0.17"/><stop offset="0.7030" stop-color="#000" stop-opacity="0.18"/><stop offset="0.7170" stop-color="#000" stop-opacity="0.18"/><stop offset="0.7230" stop-color="#000" stop-opacity="0.16"/><stop offset="0.7370" stop-color="#000" stop-opacity="0.16"/><stop offset="0.7430" stop-color="#000" stop-opacity="0.14"/><stop offset="0.7570" stop-color="#000" stop-opacity="0.14"/><stop offset="0.7630" stop-color="#000" stop-opacity="0.18"/><stop offset="0.7770" stop-color="#000" stop-opacity="0.18"/><stop offset="0.7830" stop-color="#000" stop-opacity="0.31"/><stop offset="0.7970" stop-color="#000" stop-opacity="0.31"/><stop offset="0.8030" stop-color="#000" stop-opacity="0.07"/><stop offset="0.8170" stop-color="#000" stop-opacity="0.07"/><stop offset="0.8230" stop-color="#000" stop-opacity="0.15"/><stop offset="0.8370" stop-color="#000" stop-opacity="0.15"/><stop offset="0.8430" stop-color="#000" stop-opacity="0.38"/><stop offset="0.8570" stop-color="#000" stop-opacity="0.38"/><stop offset="0.8630" stop-color="#000" stop-opacity="0.11"/><stop offset="0.8770" stop-color="#000" stop-opacity="0.11"/><stop offset="0.8830" stop-color="#000" stop-opacity="0.06"/><stop offset="0.8970" stop-color="#000" stop-opacity="0.06"/><stop offset="0.9030" stop-color="#000" stop-opacity="0.08"/><stop offset="0.9170" stop-color="#000" stop-opacity="0.08"/><stop offset="0.9230" stop-color="#000" stop-opacity="0.00"/><stop offset="0.9370" stop-color="#000" stop-opacity="0.00"/><stop offset="0.9430" stop-color="#000" stop-opacity="0.00"/><stop offset="0.9570" stop-color="#000" stop-opacity="0.00"/><stop offset="0.9630" stop-color="#000" stop-opacity="0.25"/><stop offset="0.9770" stop-color="#000" stop-opacity="0.25"/><stop offset="0.9830" stop-color="#000" stop-opacity="0.11"/><stop offset="0.9970" stop-color="#000" stop-opacity="0.11"/></linearGradient><linearGradient id="tx1" href="#tx0" gradientTransform="translate(0,70.000)"/><linearGradient id="tx2" href="#tx0" gradientTransform="translate(0,94.038)"/><linearGradient id="tx3" href="#tx0" gradientTransform="translate(0,127.974)"/><linearGradient id="tx4" href="#tx0" gradientTransform="translate(0,82.726)"/><linearGradient id="tx5" href="#tx0" gradientTransform="translate(0,147.770)"/><linearGradient id="tx6" href="#tx0" gradientTransform="translate(0,111.006)"/><linearGradient id="tx7" href="#tx0" gradientTransform="translate(0,159.082)"/><linearGradient id="tx8" href="#tx0" gradientTransform="translate(0,74.242)"/><linearGradient id="tx9" href="#tx0" gradientTransform="translate(0,120.904)"/><linearGradient id="tx10" href="#tx0" gradientTransform="translate(0,137.872)"/><linearGradient id="tx11" href="#tx0" gradientTransform="translate(0,101.108)"/><linearGradient id="tx12" href="#tx0" gradientTransform="translate(0,152.012)"/><linearGradient id="tx13" href="#tx0" gradientTransform="translate(0,86.968)"/><linearGradient id="tx14" href="#tx0" gradientTransform="translate(0,132.216)"/><linearGradient id="tx15" href="#tx0" gradientTransform="translate(0,113.834)"/>
<linearGradient id="key" x1="459" y1="0" x2="520" y2="0" gradientUnits="userSpaceOnUse">
<stop offset="0" stop-color="#14e614"/><stop offset="0.19" stop-color="#10d010"/><stop offset="0.32" stop-color="#0c900c"/><stop offset="0.47" stop-color="#000"/><stop offset="0.67" stop-color="#a00000"/><stop offset="0.775" stop-color="#d40000"/><stop offset="0.88" stop-color="#f40000"/><stop offset="1" stop-color="#ff0000"/>
</linearGradient>
<filter id="soft" color-interpolation-filters="sRGB" filterUnits="userSpaceOnUse" x="-10" y="-10" width="540" height="539"><feGaussianBlur stdDeviation="0.45"/></filter>
<pattern id="dots" width="2.4" height="2.4" patternUnits="userSpaceOnUse"><rect width="2.4" height="2.4" fill="#fa5d57"/><circle cx="1.2" cy="1.2" r="0.6" fill="#ee4e4a"/></pattern>
</defs>
<rect width="520" height="519" fill="#fff"/>
<g filter="url(#soft)">
<g shape-rendering="crispEdges">
<rect x="4.00" y="70" width="28.66" height="141.4" fill="url(#h1c0)"/><rect x="32.36" y="70" width="28.66" height="141.4" fill="url(#h1c1)"/><rect x="60.72" y="70" width="28.66" height="141.4" fill="url(#h1c2)"/><rect x="89.08" y="70" width="28.66" height="141.4" fill="url(#h1c3)"/><rect x="117.44" y="70" width="28.66" height="141.4" fill="url(#h1c4)"/><rect x="158.30" y="70" width="28.66" height="141.4" fill="url(#h2c0)"/><rect x="186.66" y="70" width="28.66" height="141.4" fill="url(#h2c1)"/><rect x="215.02" y="70" width="28.66" height="141.4" fill="url(#h2c2)"/><rect x="243.38" y="70" width="28.66" height="141.4" fill="url(#h2c3)"/><rect x="271.74" y="70" width="28.66" height="141.4" fill="url(#h2c4)"/><rect x="311.70" y="70" width="28.66" height="141.4" fill="url(#h3c0)"/><rect x="340.06" y="70" width="28.66" height="141.4" fill="url(#h3c1)"/><rect x="368.42" y="70" width="28.66" height="141.4" fill="url(#h3c2)"/><rect x="396.78" y="70" width="28.66" height="141.4" fill="url(#h3c3)"/><rect x="425.14" y="70" width="28.66" height="141.4" fill="url(#h3c4)"/><rect x="4.00" y="70" width="28.66" height="141.4" fill="url(#tx1)" opacity="0.85"/><rect x="32.36" y="70" width="28.66" height="141.4" fill="url(#tx2)" opacity="0.85"/><rect x="60.72" y="70" width="28.66" height="141.4" fill="url(#tx3)" opacity="0.85"/><rect x="89.08" y="70" width="28.66" height="141.4" fill="url(#tx4)" opacity="0.85"/><rect x="117.44" y="70" width="28.66" height="141.4" fill="url(#tx5)" opacity="0.12"/><rect x="158.30" y="70" width="28.66" height="141.4" fill="url(#tx6)" opacity="0.85"/><rect x="186.66" y="70" width="28.66" height="141.4" fill="url(#tx7)" opacity="0.85"/><rect x="215.02" y="70" width="28.66" height="141.4" fill="url(#tx8)" opacity="0.85"/><rect x="243.38" y="70" width="28.66" height="141.4" fill="url(#tx9)" opacity="0.85"/><rect x="271.74" y="70" width="28.66" height="141.4" fill="url(#tx10)" opacity="0.12"/><rect x="311.70" y="70" width="28.66" height="141.4" fill="url(#tx11)" opacity="0.85"/><rect x="340.06" y="70" width="28.66" height="141.4" fill="url(#tx12)" opacity="0.85"/><rect x="368.42" y="70" width="28.66" height="141.4" fill="url(#tx13)" opacity="0.85"/><rect x="396.78" y="70" width="28.66" height="141.4" fill="url(#tx14)" opacity="0.85"/><rect x="425.14" y="70" width="28.66" height="141.4" fill="url(#tx15)" opacity="0.12"/>
</g>
<!-- Panel A titles -->
<text x="3.3" y="13.8" class="b" font-size="13.2">A</text>
<g class="b" font-size="10.1" text-anchor="middle">
<text x="74" y="15">Most Changed Genes</text>
<text x="74" y="26.2">WT vs DKO</text>
<text x="225.2" y="15">Most Changed Genes</text>
<text x="225.4" y="26.2">MKL1 KO vs DKO</text>
<text x="378.4" y="15">Most Changed Genes</text>
<text x="378.4" y="26.2">DKO vs SRF cKO</text>
</g>
<!-- column labels -->
<g font-size="9.3">
<g>
<text transform="translate(16.3,68.5) rotate(-39.5)">WT</text>
<text transform="translate(45.8,68.5) rotate(-39.5)">SRF cKO</text>
<text transform="translate(72.8,68.5) rotate(-39.5)">MKL1 KO</text>
<text transform="translate(100.8,68.5) rotate(-39.5)">MKL2 cKO</text>
<text transform="translate(130.8,68.5) rotate(-39.5)">DKO</text>
</g>
<g>
<text transform="translate(170.6,68.5) rotate(-39.5)">WT</text>
<text transform="translate(200.1,68.5) rotate(-39.5)">SRF cKO</text>
<text transform="translate(227.1,68.5) rotate(-39.5)">MKL1 KO</text>
<text transform="translate(255.1,68.5) rotate(-39.5)">MKL2 cKO</text>
<text transform="translate(285.1,68.5) rotate(-39.5)">DKO</text>
</g>
<g>
<text transform="translate(324.8,68.5) rotate(-39.5)">WT</text>
<text transform="translate(354.3,68.5) rotate(-39.5)">SRF cKO</text>
<text transform="translate(381.3,68.5) rotate(-39.5)">MKL1 KO</text>
<text transform="translate(409.3,68.5) rotate(-39.5)">MKL2 cKO</text>
<text transform="translate(439.3,68.5) rotate(-39.5)">DKO</text>
</g>
</g>
<!-- colour key -->
<text x="489.5" y="128.3" class="b" font-size="8" text-anchor="middle">Color Key</text>
<rect x="459" y="132.6" width="70" height="14.8" fill="url(#key)"/>
<g stroke="#111" stroke-width="0.7">
<line x1="471.6" y1="147.4" x2="471.6" y2="151.6"/><line x1="489" y1="147.4" x2="489" y2="151.6"/><line x1="506.6" y1="147.4" x2="506.6" y2="151.6"/>
</g>
<g font-size="5.2" text-anchor="middle">
<text x="471.2" y="161">−1</text><text x="489" y="161">0</text><text x="506.6" y="161">1</text>
</g>
<text x="489.5" y="168.5" font-size="8.6" text-anchor="middle">Row Z−Score</text>

<!-- Panel B -->
<text x="4" y="234.3" class="b" font-size="13.4">B</text>
<g class="b" font-size="10.2" text-anchor="middle">
<text x="113.8" y="241.5">DOWN-REGULATED</text>
<text x="113.8" y="253.8">GENES</text>
<text x="269.3" y="241.5">UP-REGULATED</text>
<text x="269.3" y="253.8">GENES</text>
</g>
<g class="b" font-size="9.2" text-anchor="middle">
<text x="49" y="294.2">WT/Mkl1 KO</text>
<text x="49" y="306">comparison</text>
<text x="49" y="328.3">vs.</text>
<text x="49" y="350.2">WT/DKO</text>
<text x="49" y="361">comparison</text>
<text x="48.5" y="436.3">WT/SRF cKO</text>
<text x="48.5" y="447.3">comparison</text>
<text x="49" y="469.9">vs.</text>
<text x="48.5" y="491.3">WT/ DKO</text>
<text x="48.5" y="502.3">comparison</text>
</g>

<!-- Venn 1 -->
<clipPath id="cv1"><ellipse cx="128" cy="329.1" rx="59.7" ry="44.1"/></clipPath>
<ellipse cx="128" cy="329.1" rx="59.7" ry="44.1" fill="url(#dots)"/>
<ellipse cx="183.1" cy="328.7" rx="20.2" ry="7" fill="#1b6db0"/>
<ellipse cx="183.1" cy="328.7" rx="20.2" ry="7" fill="#a83048" clip-path="url(#cv1)"/>
<ellipse cx="183.1" cy="328.7" rx="20.2" ry="7" fill="none" stroke="#2a1a30" stroke-width="0.8"/>
<ellipse cx="128" cy="329.1" rx="59.7" ry="44.1" fill="none" stroke="#0a0a0a" stroke-width="1.5"/>
<text x="130" y="282.4" class="b" font-size="11.3" text-anchor="middle" style="fill:#e01a22;stroke:#e01a22">DKO</text>
<text x="172" y="296.5" class="b" font-size="10.9" style="fill:#1b6db0;stroke:#1b6db0">MKL1 KO</text>
<text x="124.7" y="332" class="b" font-size="8.9" text-anchor="middle" style="fill:#fff;stroke:#fff">1883</text>
<text x="178.8" y="331.9" class="b" font-size="8.9" text-anchor="middle" style="fill:#fff;stroke:#fff">25</text>
<text x="194.1" y="331.9" class="b" font-size="8.9" text-anchor="middle" style="fill:#fff;stroke:#fff">13</text>

<!-- Venn 2 -->
<clipPath id="cv2"><ellipse cx="254.5" cy="325.4" rx="35" ry="24.4"/></clipPath>
<ellipse cx="254.5" cy="325.4" rx="35" ry="24.4" fill="url(#dots)"/>
<ellipse cx="301" cy="325.7" rx="19.1" ry="7.8" fill="#1b6db0"/>
<ellipse cx="301" cy="325.7" rx="19.1" ry="7.8" fill="#8c2c50" clip-path="url(#cv2)"/>
<ellipse cx="301" cy="325.7" rx="19.1" ry="7.8" fill="none" stroke="#2a1a30" stroke-width="0.8"/>
<ellipse cx="254.5" cy="325.4" rx="35" ry="24.4" fill="none" stroke="#0a0a0a" stroke-width="1.5"/>
<line x1="288" y1="327.5" x2="291.2" y2="340.6" stroke="#1a1a1a" stroke-width="1"/>
<text x="255" y="296" class="b" font-size="11.3" text-anchor="middle" style="fill:#e01a22;stroke:#e01a22">DKO</text>
<text x="285.6" y="303.3" class="b" font-size="10.9" style="fill:#1b6db0;stroke:#1b6db0">MKL1 KO</text>
<text x="257.6" y="327.5" class="b" font-size="8.9" text-anchor="middle" style="fill:#fff;stroke:#fff">984</text>
<text x="299.7" y="329.6" class="b" font-size="8.9" text-anchor="middle" style="fill:#fff;stroke:#fff">50</text>
<text x="292" y="351.6" font-size="7.8" text-anchor="middle">14</text>

<!-- Venn 3 -->
<clipPath id="cv3"><ellipse cx="124.7" cy="467.8" rx="57.4" ry="41.9"/></clipPath>
<ellipse cx="124.7" cy="467.8" rx="57.4" ry="41.9" fill="url(#dots)"/>
<ellipse cx="177" cy="469.5" rx="24.2" ry="11.6" fill="#12a046"/>
<ellipse cx="177" cy="469.5" rx="24.2" ry="11.6" fill="#a54e22" clip-path="url(#cv3)"/>
<ellipse cx="177" cy="469.5" rx="24.2" ry="11.6" fill="none" stroke="#1a2a10" stroke-width="0.9"/>
<ellipse cx="124.7" cy="467.8" rx="57.4" ry="41.9" fill="none" stroke="#0a0a0a" stroke-width="1.5"/>
<text x="128.8" y="424" class="b" font-size="11.3" text-anchor="middle" style="fill:#e01a22;stroke:#e01a22">DKO</text>
<text x="191.3" y="450.8" class="b" font-size="11" text-anchor="middle" style="fill:#12a046;stroke:#12a046">SRF</text>
<text x="119" y="473.2" class="b" font-size="8.9" text-anchor="middle" style="fill:#fff;stroke:#fff">1700</text>
<text x="166.4" y="473.2" class="b" font-size="8.9" text-anchor="middle" style="fill:#fff;stroke:#fff">208</text>
<text x="189.6" y="473.2" class="b" font-size="8.9" text-anchor="middle" style="fill:#fff;stroke:#fff">111</text>

<!-- Venn 4 -->
<clipPath id="cv4"><ellipse cx="257.5" cy="469" rx="28.6" ry="22.2"/></clipPath>
<ellipse cx="257.5" cy="469" rx="28.6" ry="22.2" fill="url(#dots)"/>
<ellipse cx="293" cy="466.4" rx="29.9" ry="13.7" fill="#12a046"/>
<ellipse cx="293" cy="466.4" rx="29.9" ry="13.7" fill="#a54e22" clip-path="url(#cv4)"/>
<ellipse cx="293" cy="466.4" rx="29.9" ry="13.7" fill="none" stroke="#1a2a10" stroke-width="0.9"/>
<ellipse cx="257.5" cy="469" rx="28.6" ry="22.2" fill="none" stroke="#0a0a0a" stroke-width="1.5"/>
<text x="254.8" y="440.7" class="b" font-size="11.3" text-anchor="middle" style="fill:#e01a22;stroke:#e01a22">DKO</text>
<text x="297.9" y="448.8" class="b" font-size="11" text-anchor="middle" style="fill:#12a046;stroke:#12a046">SRF</text>
<text x="245" y="470.6" class="b" font-size="8.9" text-anchor="middle" style="fill:#fff;stroke:#fff">733</text>
<text x="276.6" y="470.6" class="b" font-size="8.9" text-anchor="middle" style="fill:#fff;stroke:#fff">265</text>
<text x="301.2" y="470.6" class="b" font-size="8.9" text-anchor="middle" style="fill:#fff;stroke:#fff">385</text>

<!-- Panel C -->
<text x="356" y="236.6" class="b" font-size="13.4">C</text>
<g class="b" font-size="7.8" text-anchor="middle">
<text x="450" y="231.6">EGFL7 Expression</text>
<text x="450" y="333">miR-126 Expression</text>
<text x="450" y="434.2">SPRED1 Expression</text>
</g>
<g class="b" font-size="7.7" text-anchor="middle">
<text transform="translate(386.7,272.5) rotate(-90)">Fold over WT</text>
<text transform="translate(386.7,373.5) rotate(-90)">Fold over WT</text>
<text transform="translate(386.7,475.5) rotate(-90)">Fold over WT</text>
</g>
<g fill="#7f7f7f" stroke="#111" stroke-width="1.3">
<rect x="408.6" y="296.5" width="21" height="7.9"/>
<rect x="439.6" y="247.9" width="20.6" height="56.5"/>
<rect x="470.6" y="295.9" width="21" height="8.5"/>
<rect x="408.6" y="384.7" width="21" height="21.1"/>
<rect x="439.6" y="351.1" width="20.6" height="54.7"/>
<rect x="470.6" y="383.7" width="21" height="22.1"/>
<rect x="408.6" y="465" width="21" height="42.4"/>
<rect x="439.6" y="477.4" width="20.6" height="30"/>
<rect x="470.6" y="451.9" width="21" height="55.5"/>
</g>
<g stroke="#111" stroke-width="1.1" fill="none">
<path d="M403.4 240.6V304.4H497"/>
<path d="M400.6 240.6h2.8M400.6 256.5h2.8M400.6 272.5h2.8M400.6 288.4h2.8M400.6 304.4h2.8M419.1 304.4v2.2M449.9 304.4v2.2M481.1 304.4v2.2"/>
<path d="M403.4 341.8V405.8H497"/>
<path d="M400.6 341.8h2.8M400.6 363.1h2.8M400.6 384.5h2.8M400.6 405.8h2.8M419.1 405.8v2.2M449.9 405.8v2.2M481.1 405.8v2.2"/>
<path d="M403.4 444.2V507.4H497"/>
<path d="M400.6 444.2h2.8M400.6 465.3h2.8M400.6 486.3h2.8M400.6 507.4h2.8M419.1 507.4v2.2M449.9 507.4v2.2M481.1 507.4v2.2"/>
</g>
<g class="b" font-size="6.3" text-anchor="end">
<text x="400" y="242.9">8</text><text x="400" y="258.8">6</text><text x="400" y="274.8">4</text><text x="400" y="290.7">2</text><text x="400" y="306.7">0</text>
<text x="400" y="344.1">3</text><text x="400" y="365.4">2</text><text x="400" y="386.8">1</text><text x="400" y="408.1">0</text>
<text x="400" y="446.5">1.5</text><text x="400" y="467.6">1.0</text><text x="400" y="488.6">0.5</text><text x="400" y="509.7">0.0</text>
</g>
<g class="b" font-size="6.8" text-anchor="middle">
<text x="418.8" y="313.4">WT</text><text x="450" y="313.4">DKO</text><text x="481" y="313.4">Srf cKO</text>
<text x="418.8" y="414.4">WT</text><text x="450" y="414.4">DKO</text><text x="481" y="414.4">Srf cKO</text>
<text x="418.8" y="515.6">WT</text><text x="450" y="515.6">DKO</text><text x="481" y="515.6">Srf cKO</text>
</g>

</g>
</svg>
</body></html>
